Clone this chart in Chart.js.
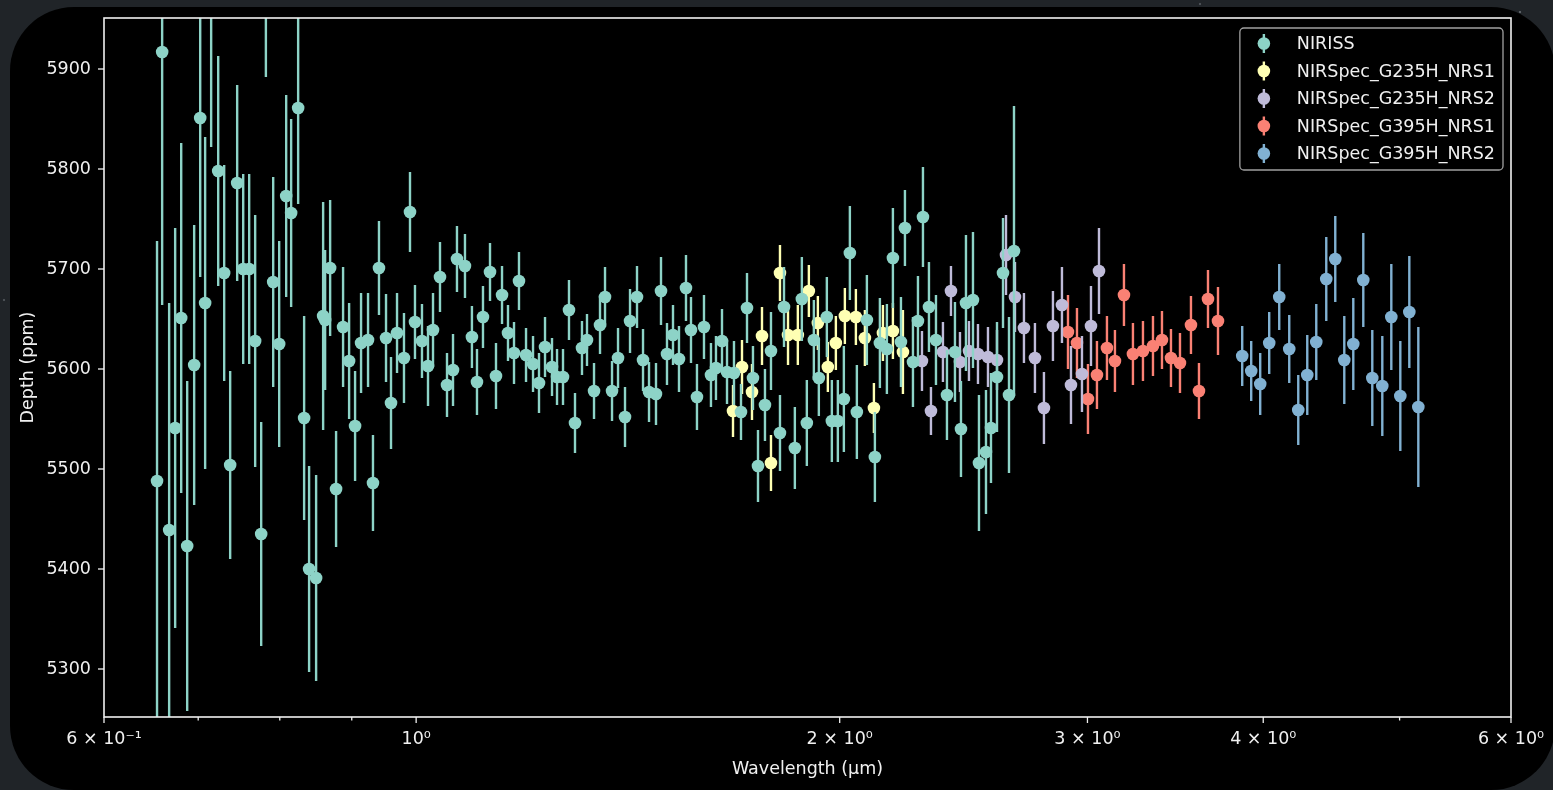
<!DOCTYPE html>
<html>
<head>
<meta charset="utf-8">
<script src="https://cdn.jsdelivr.net/npm/chart.js@4.4.1/dist/chart.umd.min.js"></script>
<style>
  html, body { margin: 0; padding: 0; }
  body {
    width: 1553px; height: 790px; overflow: hidden; position: relative;
    background-color: #202428;
    background-image:
      radial-gradient(circle at 1520px 12px, #5a5f64 0.8px, transparent 1.6px),
      radial-gradient(circle at 1200px 4px, #4a4f54 0.8px, transparent 1.6px),
      radial-gradient(circle at 4px 300px, #4a4f54 0.8px, transparent 1.6px),
      radial-gradient(circle at 1545px 120px, #50555a 0.8px, transparent 1.6px);
  }
  #panel {
    position: absolute; left: 10px; top: 7px; width: 1545px; height: 783px;
    background: #000; border-radius: 64px;
  }
  #spectrum { position: absolute; left: 0; top: 0; }
</style>
</head>
<body>
<div id="panel"></div>
<canvas id="spectrum" width="1553" height="790"></canvas>
<script>
// wavelength (um), depth (ppm), 1-sigma error (ppm) for each instrument
const nirissWave = [0.6544,0.6599,0.6675,0.6741,0.6808,0.6875,0.6954,0.7023,0.7080,0.7150,
    0.7233,0.7304,0.7376,0.7461,0.7535,0.7609,0.7684,0.7760,0.7820,0.7914,
    0.7992,0.8084,0.8150,0.8244,0.8325,0.8393,0.8490,0.8588,0.8616,0.8687,
    0.8772,0.8873,0.8961,0.9049,0.9138,0.9243,0.9318,0.9410,0.9519,0.9597,
    0.9692,0.9803,0.9900,0.9981,1.0096,1.0196,1.0280,1.0398,1.0518,1.0622,
    1.0691,1.0832,1.0956,1.1047,1.1156,1.1285,1.1396,1.1509,1.1622,1.1737,
    1.1833,1.1970,1.2108,1.2227,1.2348,1.2490,1.2593,1.2717,1.2842,1.2969,
    1.3118,1.3226,1.3379,1.3511,1.3622,1.3779,1.3915,1.4075,1.4191,1.4354,
    1.4496,1.4639,1.4807,1.4929,1.5076,1.5225,1.5375,1.5552,1.5680,1.5834,
    1.6017,1.6201,1.6334,1.6496,1.6632,1.6823,1.7017,1.7185,1.7354,1.7497,
    1.7698,1.7873,1.8138,1.8258,1.8585,1.8799,1.8953,1.9172,1.9329,1.9584,
    1.9745,1.9940,2.0137,2.0336,2.0570,2.0910,2.1186,2.1360,2.1606,2.1820,
    2.2109,2.2254,2.2548,2.2733,2.2920,2.3146,2.3413,2.3838,2.4152,2.4391,
    2.4591,2.4875,2.5120,2.5410,2.5619,2.5872,2.6128,2.6385,2.6602];
const nirissDepth = [5488,5917,5439,5541,5651,5423,5604,5851,5666,5985,
    5798,5696,5504,5786,5700,5700,5628,5435,6000,5687,
    5625,5773,5756,5861,5551,5400,5391,5653,5649,5701,
    5480,5642,5608,5543,5626,5629,5486,5701,5631,5566,
    5636,5611,5757,5647,5628,5603,5639,5692,5584,5599,
    5710,5703,5632,5587,5652,5697,5593,5674,5636,5616,
    5688,5614,5605,5586,5622,5602,5592,5592,5659,5546,
    5621,5629,5578,5644,5672,5578,5611,5552,5648,5672,
    5609,5577,5575,5678,5615,5634,5610,5681,5639,5572,
    5642,5594,5601,5628,5597,5596,5557,5661,5591,5503,
    5564,5618,5536,5662,5521,5670,5546,5629,5591,5652,
    5548,5548,5570,5716,5557,5649,5512,5626,5620,5711,
    5627,5741,5607,5648,5752,5662,5629,5574,5617,5540,
    5666,5669,5506,5517,5541,5592,5696,5574,5718];
const nirissErr = [240,253,227,200,175,165,140,159,166,163,
    115,108,94,98,95,95,126,112,108,105,
    103,101,94,96,102,103,103,114,70,68,
    58,60,58,55,50,47,48,47,44,46,
    40,45,40,37,37,40,37,35,32,36,
    33,32,31,33,31,29,33,29,28,31,
    29,27,28,30,30,29,28,28,30,30,
    27,26,28,29,30,30,30,30,32,31,
    31,30,31,34,31,30,33,33,33,33,
    32,32,32,32,32,32,28,35,32,36,
    36,39,38,40,41,42,43,40,38,40,
    41,41,53,47,47,45,45,45,45,50,
    45,38,45,45,50,45,45,45,50,48,
    68,68,68,62,55,55,55,78,145];

const g235Nrs1Wave = [1.6796,1.7045,1.7326,1.7612,1.7873,1.8138,1.8378,1.8676,1.9016,1.9298,
    1.9616,1.9875,2.0170,2.0537,2.0842,2.1152,2.1467,2.1820,2.2181];
const g235Nrs1Depth = [5558,5602,5577,5633,5506,5696,5634,5634,5678,5646,
    5602,5626,5653,5652,5631,5561,5636,5638,5617];
const g235Nrs1Err = [26,27,28,29,28,28,30,30,26,27,25,27,28,28,28,25,28,28,42];

const g235Nrs2Wave = [2.2883,2.3222,2.3682,2.3995,2.4351,2.4712,2.5079,2.5493,2.5872,2.6256,
    2.6645,2.7039,2.7530,2.7938,2.8353,2.8774,2.9202,2.9732,3.0174,3.0572];
const g235Nrs2Depth = [5608,5558,5617,5678,5607,5618,5615,5612,5609,5714,
    5672,5641,5611,5561,5643,5664,5584,5595,5643,5698];
const g235Nrs2Err = [30,24,30,25,30,30,30,30,30,40,35,35,35,36,35,38,39,38,40,43];

const g395Nrs1Wave = [2.9059,2.9490,3.0025,3.0470,3.0973,3.1381,3.1847,3.2319,3.2853,3.3396,
    3.3891,3.4394,3.4905,3.5538,3.6007,3.6542,3.7145];
const g395Nrs1Depth = [5637,5626,5570,5594,5621,5608,5674,5615,5618,5623,
    5629,5611,5606,5644,5578,5670,5648];
const g395Nrs1Err = [37,35,35,34,32,31,31,31,30,30,29,29,30,29,28,29,34];

const g395Nrs2Wave = [3.8647,3.9220,3.9802,4.0393,4.1061,4.1739,4.2359,4.2988,4.3626,4.4346,
    4.5004,4.5673,4.6351,4.7116,4.7815,4.8605,4.9327,5.0059,5.0802,5.1556];
const g395Nrs2Depth = [5613,5598,5585,5626,5672,5620,5559,5594,5627,5690,
    5710,5609,5625,5689,5591,5583,5652,5573,5657,5562];
const g395Nrs2Err = [30,30,31,31,33,34,35,40,38,42,43,44,46,47,48,50,53,55,56,80];

const instrumentNames = ['NIRISS', 'NIRSpec_G235H_NRS1', 'NIRSpec_G235H_NRS2', 'NIRSpec_G395H_NRS1', 'NIRSpec_G395H_NRS2'];
const instrumentColors = ['#8dd3c7', '#feffb3', '#bfbbd9', '#fa8174', '#81b1d2'];

const xTickValues = [0.6, 0.7, 0.8, 0.9, 1, 2, 3, 4, 5, 6];
const xTickLabels = {0.6: '6 × 10⁻¹', 1: '10⁰', 2: '2 × 10⁰', 3: '3 × 10⁰', 4: '4 × 10⁰', 6: '6 × 10⁰'};
const yTickValues = [5300, 5400, 5500, 5600, 5700, 5800, 5900];

const textColor = '#f0f0f0';
const markerRadius = 6.3;

function makeDataset(index, waves, depths, errs) {
    return {
        label: instrumentNames[index],
        data: waves.map((w, i) => ({ x: w, y: depths[i] })),
        errors: errs,
        backgroundColor: instrumentColors[index],
        borderColor: instrumentColors[index],
        pointRadius: markerRadius,
        pointBorderWidth: 0,
        pointHoverRadius: markerRadius,
        showLine: false,
        clip: 0
    };
}

// vertical error bars, drawn under each dataset's markers
const errorBarPlugin = {
    id: 'errorBars',
    beforeDatasetDraw(chart, args) {
        const ds = chart.data.datasets[args.index];
        const { ctx, chartArea, scales } = chart;
        ctx.save();
        ctx.beginPath();
        ctx.rect(chartArea.left, chartArea.top, chartArea.width, chartArea.height);
        ctx.clip();
        ctx.strokeStyle = ds.borderColor;
        ctx.lineWidth = 2.4;
        ds.data.forEach((p, i) => {
            const x = scales.x.getPixelForValue(p.x);
            ctx.beginPath();
            ctx.moveTo(x, scales.y.getPixelForValue(p.y - ds.errors[i]));
            ctx.lineTo(x, scales.y.getPixelForValue(p.y + ds.errors[i]));
            ctx.stroke();
        });
        ctx.restore();
    }
};

// spines, tick marks and the in-axes legend
const framePlugin = {
    id: 'frame',
    afterDraw(chart) {
        const { ctx, chartArea, scales } = chart;
        ctx.save();
        ctx.strokeStyle = textColor;
        ctx.lineWidth = 1.6;
        ctx.strokeRect(chartArea.left, chartArea.top, chartArea.width, chartArea.height);

        ctx.lineWidth = 1.3;
        scales.x.ticks.forEach(t => {
            const x = scales.x.getPixelForValue(t.value);
            const len = xTickLabels[t.value] ? 6 : 3.5;
            ctx.beginPath();
            ctx.moveTo(x, chartArea.bottom);
            ctx.lineTo(x, chartArea.bottom + len);
            ctx.stroke();
        });
        scales.y.ticks.forEach(t => {
            const y = scales.y.getPixelForValue(t.value);
            ctx.beginPath();
            ctx.moveTo(chartArea.left, y);
            ctx.lineTo(chartArea.left - 6, y);
            ctx.stroke();
        });

        // legend
        ctx.font = '17.5px "DejaVu Sans"';
        const labels = chart.data.datasets.map(d => d.label);
        const textWidth = Math.max(...labels.map(l => ctx.measureText(l).width));
        const boxW = 57 + textWidth + 8;
        const boxH = 142;
        const boxX = chartArea.right - 8 - boxW;
        const boxY = chartArea.top + 10;
        ctx.beginPath();
        ctx.roundRect(boxX, boxY, boxW, boxH, 4);
        ctx.fillStyle = '#000000';
        ctx.fill();
        ctx.strokeStyle = '#a0a0a0';
        ctx.lineWidth = 1.3;
        ctx.stroke();

        ctx.textBaseline = 'middle';
        ctx.textAlign = 'left';
        chart.data.datasets.forEach((d, i) => {
            const cy = boxY + 15.5 + i * 27.5;
            const mx = boxX + 24;
            ctx.strokeStyle = d.borderColor;
            ctx.lineWidth = 2.4;
            ctx.beginPath();
            ctx.moveTo(mx, cy - 9.5);
            ctx.lineTo(mx, cy + 9.5);
            ctx.stroke();
            ctx.fillStyle = d.backgroundColor;
            ctx.beginPath();
            ctx.arc(mx, cy, markerRadius, 0, Math.PI * 2);
            ctx.fill();
            ctx.fillStyle = textColor;
            ctx.fillText(d.label, boxX + 57, cy + 1);
        });
        ctx.restore();
    }
};

Chart.defaults.font.family = '"DejaVu Sans", sans-serif';
Chart.defaults.font.size = 17.5;
Chart.defaults.color = textColor;

new Chart(document.getElementById('spectrum').getContext('2d'), {
    type: 'scatter',
    data: {
        datasets: [
            makeDataset(0, nirissWave, nirissDepth, nirissErr),
            makeDataset(1, g235Nrs1Wave, g235Nrs1Depth, g235Nrs1Err),
            makeDataset(2, g235Nrs2Wave, g235Nrs2Depth, g235Nrs2Err),
            makeDataset(3, g395Nrs1Wave, g395Nrs1Depth, g395Nrs1Err),
            makeDataset(4, g395Nrs2Wave, g395Nrs2Depth, g395Nrs2Err)
        ]
    },
    options: {
        responsive: false,
        animation: false,
        layout: { padding: { left: 0, top: 18, right: 42, bottom: 0 } },
        plugins: {
            legend: { display: false },
            tooltip: { enabled: false }
        },
        scales: {
            x: {
                type: 'logarithmic',
                min: 0.6,
                max: 6,
                grid: { display: false, drawTicks: false },
                border: { display: false },
                afterBuildTicks: scale => { scale.ticks = xTickValues.map(v => ({ value: v })); },
                afterFit: scale => {
                    scale.height = 73;
                    scale.paddingLeft = 0;
                    scale.paddingRight = 0;
                },
                ticks: {
                    autoSkip: false,
                    maxRotation: 0,
                    padding: 12,
                    callback: value => xTickLabels[value] || ''
                },
                title: {
                    display: true,
                    text: 'Wavelength (µm)',
                    padding: { top: 0, bottom: 10 }
                }
            },
            y: {
                min: 5252,
                max: 5951,
                grid: { display: false, drawTicks: false },
                border: { display: false },
                afterBuildTicks: scale => { scale.ticks = yTickValues.map(v => ({ value: v })); },
                afterFit: scale => {
                    scale.width = 104;
                    scale.paddingTop = 0;
                    scale.paddingBottom = 0;
                },
                ticks: {
                    padding: 13,
                    callback: value => String(value)
                },
                title: {
                    display: true,
                    text: 'Depth (ppm)',
                    padding: { top: 18, bottom: 0 }
                }
            }
        }
    },
    plugins: [errorBarPlugin, framePlugin]
});
</script>
</body>
</html>
